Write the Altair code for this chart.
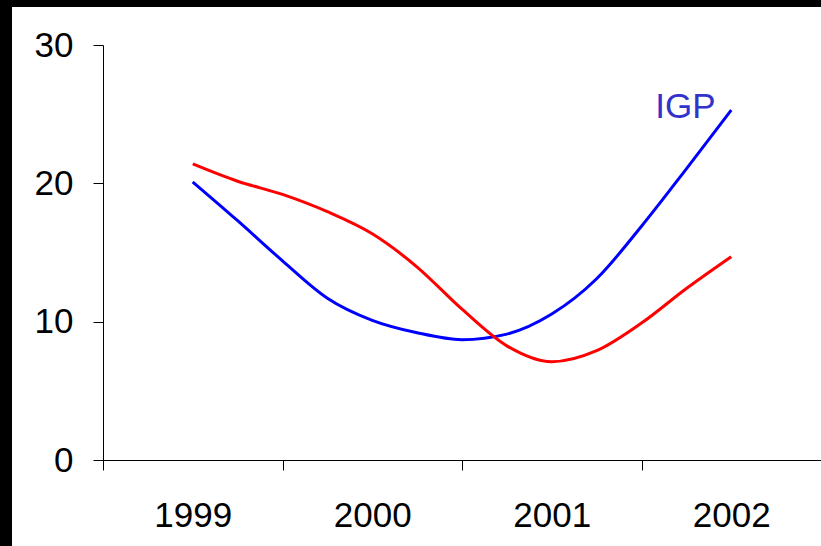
import altair as alt
import pandas as pd

# ---- data ----
years = [1999.0, 1999.25, 1999.5, 1999.75, 2000.0, 2000.25, 2000.5,
         2000.75, 2001.0, 2001.25, 2001.5, 2001.75, 2002.0]
igp = [20.1, 17.3, 14.4, 11.7, 10.1, 9.2, 8.7, 9.1, 10.55, 13.1, 16.9, 21.05, 25.3]
ipca = [21.4, 20.15, 19.2, 17.95, 16.35, 13.95, 10.9, 8.25, 7.1, 7.9, 9.9, 12.4, 14.7]
series_names = ["IGP", "IPCA"]
series_colors = ["#0000FF", "#FF0000"]
y_ticks = [0, 10, 20, 30]
x_ticks = [1998.5, 1999, 1999.5, 2000, 2000.5, 2001, 2001.5, 2002, 2002.5]
label_text = ["IGP"]
label_x = [2001.745]
label_y = [24.7]

df = pd.DataFrame({
    "year": years + years,
    "value": igp + ipca,
    "series": [series_names[0]] * len(years) + [series_names[1]] * len(years),
})
lab = pd.DataFrame({"year": label_x, "value": label_y, "text": label_text})

FONT = "Liberation Sans"
x_scale = alt.Scale(domain=[1998.5, 2002.5], nice=False, zero=False)
y_scale = alt.Scale(domain=[0, 30], nice=False, zero=True)

x_axis = alt.Axis(
    values=x_ticks, title="", grid=False,
    labelExpr="datum.value % 1 == 0 ? format(datum.value, 'd') : ''",
    tickOpacity={"condition": {"test": "datum.value % 1 != 0", "value": 1}, "value": 0},
    tickSize=10, tickColor="black", tickWidth=1,
    domainColor="black", domainWidth=1,
    labelFont=FONT, labelFontSize=35, labelColor="black",
    labelPadding=28, labelOverlap=False, labelFlush=False,
)
y_axis = alt.Axis(
    values=y_ticks, title="", grid=False,
    tickSize=10, tickColor="black", tickWidth=1,
    domainColor="black", domainWidth=1,
    labelFont=FONT, labelFontSize=35, labelColor="black",
    labelPadding=20, labelOverlap=False, labelFlush=False,
)

one = pd.DataFrame({"k": [0]})
frame_left = alt.Chart(one).mark_rect(color="black").encode(
    x=alt.value(-103), x2=alt.value(-91), y=alt.value(-45), y2=alt.value(501))
frame_top = alt.Chart(one).mark_rect(color="black").encode(
    x=alt.value(-103), x2=alt.value(718), y=alt.value(-45), y2=alt.value(-38))

lines = alt.Chart(df).mark_line(strokeWidth=3, interpolate="monotone").encode(
    x=alt.X("year:Q", scale=x_scale, axis=x_axis),
    y=alt.Y("value:Q", scale=y_scale, axis=y_axis),
    color=alt.Color("series:N", scale=alt.Scale(domain=series_names, range=series_colors), legend=None),
    detail="series:N",
)

label = alt.Chart(lab).mark_text(
    font=FONT, fontSize=35, color="#3333CC", align="center", baseline="alphabetic"
).encode(
    x=alt.X("year:Q", scale=x_scale),
    y=alt.Y("value:Q", scale=y_scale),
    text="text:N",
)

chart = alt.layer(frame_left, frame_top, lines, label).properties(
    width=718, height=415,
    padding={"left": 103, "top": 45, "right": 0, "bottom": 86},
    autosize=alt.AutoSizeParams(type="none"),
).configure(background="white").configure_view(strokeWidth=0)

chart.save("out.html", embed_options={"renderer": "svg", "actions": False})
